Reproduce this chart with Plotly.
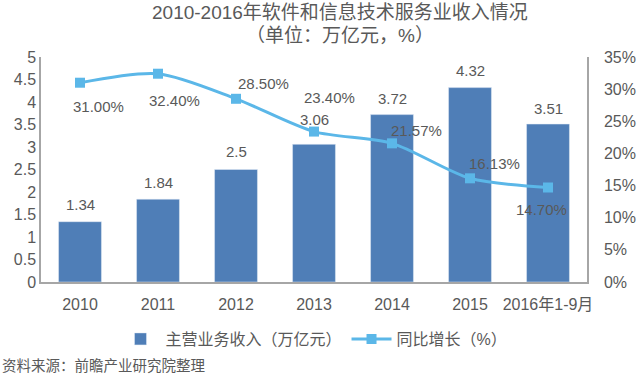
import plotly.graph_objects as go

categories = ["2010", "2011", "2012", "2013", "2014", "2015", "2016年1-9月"]
revenue = [1.34, 1.84, 2.5, 3.06, 3.72, 4.32, 3.51]
revenue_labels = ["1.34", "1.84", "2.5", "3.06", "3.72", "4.32", "3.51"]
growth = [0.31, 0.324, 0.285, 0.234, 0.2157, 0.1613, 0.147]
growth_labels = ["31.00%", "32.40%", "28.50%", "23.40%", "21.57%", "16.13%", "14.70%"]
left_ticks = [0, 0.5, 1, 1.5, 2, 2.5, 3, 3.5, 4, 4.5, 5]
left_tick_text = ["0", "0.5", "1", "1.5", "2", "2.5", "3", "3.5", "4", "4.5", "5"]
right_ticks = [0, 0.05, 0.10, 0.15, 0.20, 0.25, 0.30, 0.35]
right_tick_text = ["0%", "5%", "10%", "15%", "20%", "25%", "30%", "35%"]

# label offsets (pixels) relative to their marks
label_dx = [18, 16, 27, 15, 24, 24, -7]
label_dy = [-24, -27, 15, 34, 13, 15, -22]
bar_label_dy = [17, 17, 18, 25, 16, 17, 16]

FONT = "Liberation Sans, Arial, Noto Sans CJK SC, sans-serif"
GRAY = "#595959"
BAR = "#4F7EB7"
LINE = "#5BB7E8"

fig = go.Figure()
fig.add_trace(go.Bar(
    x=categories, y=revenue, name="主营业务收入（万亿元）",
    marker=dict(color=BAR), width=0.55,
))
fig.add_trace(go.Scatter(
    x=categories, y=growth, name="同比增长（%）", yaxis="y2",
    mode="lines+markers", line=dict(color=LINE, width=3, shape="spline", smoothing=0.8),
    marker=dict(symbol="square", size=10, color=LINE), cliponaxis=False,
))

annotations = []
for i, (v, t, dy) in enumerate(zip(revenue, revenue_labels, bar_label_dy)):
    annotations.append(dict(text=t, xref="x", yref="y", x=i, y=v, yshift=dy,
                            showarrow=False, xanchor="center", yanchor="middle",
                            font=dict(size=15, color=GRAY)))
for i, (g, t, dx, dy) in enumerate(zip(growth, growth_labels, label_dx, label_dy)):
    # x given as the category index on the category axis
    annotations.append(dict(text=t, xref="x", yref="y2", x=i, y=g, xshift=dx, yshift=dy,
                            showarrow=False, xanchor="center", yanchor="middle",
                            font=dict(size=15, color=GRAY)))
annotations += [
    dict(text="2010-2016年软件和信息技术服务业收入情况", xref="paper", yref="paper",
         x=(340 - 41) / 546, xanchor="center", y=1 + (57 - 12) / 225, yanchor="middle",
         showarrow=False, font=dict(size=19, color=GRAY)),
    dict(text="（单位：万亿元，%）", xref="paper", yref="paper",
         x=(340 - 41) / 546, xanchor="center", y=1 + (57 - 35) / 225, yanchor="middle",
         showarrow=False, font=dict(size=19, color=GRAY)),
    dict(text="资料来源：前瞻产业研究院整理", xref="paper", yref="paper",
         x=-41 / 546, xanchor="left", y=-(366 - 282) / 225, yanchor="middle",
         showarrow=False, font=dict(size=14.5, color=GRAY)),
]

fig.update_layout(
    width=640, height=377,
    margin=dict(l=41, r=53, t=57, b=95, autoexpand=False),
    paper_bgcolor="white", plot_bgcolor="white",
    font=dict(family=FONT, color=GRAY, size=14),
    bargap=0.45,
    xaxis=dict(type="category", range=[-0.5, len(categories) - 0.5], showline=True,
               linecolor="#A6A6A6", linewidth=1.5, ticks="",
               tickfont=dict(size=16, color=GRAY), showgrid=False, ticklabelstandoff=7),
    yaxis=dict(range=[0, 5], tickvals=left_ticks, ticktext=left_tick_text,
               showline=True, linecolor="#A6A6A6", linewidth=1.5, showgrid=False,
               zeroline=False, tickfont=dict(size=16, color=GRAY), ticks=""),
    yaxis2=dict(range=[0, 0.35], tickvals=right_ticks, ticktext=right_tick_text,
                overlaying="y", side="right", showline=True, linecolor="#A6A6A6",
                linewidth=1.5, showgrid=False, zeroline=False,
                tickfont=dict(size=16, color=GRAY), ticks="", ticklabelstandoff=12),
    legend=dict(orientation="h", x=0.5, xanchor="center", y=-(339 - 282) / 225,
                yanchor="middle", font=dict(size=16, color=GRAY), traceorder="normal",
                itemwidth=40),
    annotations=annotations,
)

fig.write_html("out.html", config={"displayModeBar": False},
               post_script="document.body.style.margin='0';")
